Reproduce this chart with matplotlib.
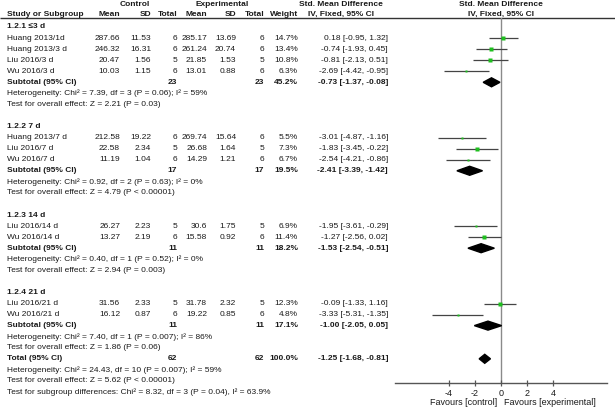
import numpy as np
import matplotlib
matplotlib.use("Agg")
import matplotlib.pyplot as plt

plt.rcParams['font.family'] = ['Liberation Sans', 'DejaVu Sans']

# ---- data ----
group_names = ["1.2.1 \u22643 d", "1.2.2 7 d", "1.2.3 14 d", "1.2.4 21 d"]
study = ["Huang 2013/1d", "Huang 2013/3 d", "Liu 2016/3 d", "Wu 2016/3 d",
         "Huang 2013/7 d", "Liu 2016/7 d", "Wu 2016/7 d",
         "Liu 2016/14 d", "Wu 2016/14 d",
         "Liu 2016/21 d", "Wu 2016/21 d"]
study_group = [0, 0, 0, 0, 1, 1, 1, 2, 2, 3, 3]
ctrl_mean = ["287.66", "246.32", "20.47", "10.03", "212.58", "22.58", "11.19", "26.27", "13.27", "31.56", "16.12"]
ctrl_sd = ["11.53", "16.31", "1.56", "1.15", "19.22", "2.34", "1.04", "2.23", "2.19", "2.33", "0.87"]
ctrl_n = [6, 6, 5, 6, 6, 5, 6, 5, 6, 5, 6]
exp_mean = ["285.17", "261.24", "21.85", "13.01", "269.74", "26.68", "14.29", "30.6", "15.58", "31.78", "19.22"]
exp_sd = ["13.69", "20.74", "1.53", "0.88", "15.64", "1.64", "1.21", "1.75", "0.92", "2.32", "0.85"]
exp_n = [6, 6, 5, 6, 6, 5, 6, 5, 6, 5, 6]
weight = [14.7, 13.4, 10.8, 6.3, 5.5, 7.3, 6.7, 6.9, 11.4, 12.3, 4.8]
smd = [0.18, -0.74, -0.81, -2.69, -3.01, -1.83, -2.54, -1.95, -1.27, -0.09, -3.33]
lo = [-0.95, -1.93, -2.13, -4.42, -4.87, -3.45, -4.21, -3.61, -2.56, -1.33, -5.31]
hi = [1.32, 0.45, 0.51, -0.95, -1.16, -0.22, -0.86, -0.29, 0.02, 1.16, -1.35]

sub_n_ctrl = [23, 17, 11, 11]
sub_n_exp = [23, 17, 11, 11]
sub_weight = [45.2, 19.5, 18.2, 17.1]
sub_smd = [-0.73, -2.41, -1.53, -1.00]
sub_lo = [-1.37, -3.39, -2.54, -2.05]
sub_hi = [-0.08, -1.42, -0.51, 0.05]
sub_het = ["Heterogeneity: Chi\u00b2 = 7.39, df = 3 (P = 0.06); I\u00b2 = 59%",
           "Heterogeneity: Chi\u00b2 = 0.92, df = 2 (P = 0.63); I\u00b2 = 0%",
           "Heterogeneity: Chi\u00b2 = 0.40, df = 1 (P = 0.52); I\u00b2 = 0%",
           "Heterogeneity: Chi\u00b2 = 7.40, df = 1 (P = 0.007); I\u00b2 = 86%"]
sub_test = ["Test for overall effect: Z = 2.21 (P = 0.03)",
            "Test for overall effect: Z = 4.79 (P < 0.00001)",
            "Test for overall effect: Z = 2.94 (P = 0.003)",
            "Test for overall effect: Z = 1.86 (P = 0.06)"]

total_n_ctrl, total_n_exp = 62, 62
total_smd, total_lo, total_hi = -1.25, -1.68, -0.81
total_lines = ["Heterogeneity: Chi\u00b2 = 24.43, df = 10 (P = 0.007); I\u00b2 = 59%",
               "Test for overall effect: Z = 5.62 (P < 0.00001)",
               "Test for subgroup differences: Chi\u00b2 = 8.32, df = 3 (P = 0.04), I\u00b2 = 63.9%"]
ticks = [-4, -2, 0, 2, 4]

# ---- layout (pixel coords) ----
W, H = 615, 415
fig = plt.figure(figsize=(W / 100, H / 100), dpi=100)
tax = fig.add_axes([0, 0, 1, 1])
tax.set_xlim(0, W)
tax.set_ylim(H, 0)
tax.axis('off')

axis_y, top_y = 383, 18
x0_px, x1_px = 395, 607
fax = fig.add_axes([x0_px / W, (H - axis_y) / H, (x1_px - x0_px) / W, (axis_y - top_y) / H])
fax.set_xlim(-8.15, 8.15)
fax.set_ylim(axis_y, top_y)
fax.patch.set_alpha(0)

fs = 6.0
tc = '#1a1a1a'
col_mean_c, col_sd_c, col_n_c = 120, 151, 177
col_mean_e, col_sd_e, col_n_e = 207, 236, 264
col_w, col_ci = 298, 388


def txt(x, y, s, ha='left', bold=False, size=fs):
    tax.text(x, y, s, ha=ha, va='center', fontsize=size, color=tc,
             fontweight='bold' if bold else 'normal')


# headers
txt(135, 4, "Control", ha='center', bold=True)
txt(222, 4, "Experimental", ha='center', bold=True)
txt(341, 4, "Std. Mean Difference", ha='center', bold=True)
txt(501, 4, "Std. Mean Difference", ha='center', bold=True)
hy = 14.5
txt(7, hy, "Study or Subgroup", bold=True)
for x, s in [(col_mean_c, "Mean"), (col_sd_c, "SD"), (col_n_c, "Total"),
             (col_mean_e, "Mean"), (col_sd_e, "SD"), (col_n_e, "Total"),
             (col_w, "Weight")]:
    txt(x, hy, s, ha='right', bold=True)
txt(341, hy, "IV, Fixed, 95% CI", ha='center', bold=True)
txt(501, hy, "IV, Fixed, 95% CI", ha='center', bold=True)
tax.hlines(top_y, 0, W, color='#333333', lw=1.0)

# rows
dy = 11.06
r = 0
y0 = 27
for g, gname in enumerate(group_names):
    txt(7, y0 + r * dy, gname, bold=True)
    r += 1
    for i in [k for k, sg in enumerate(study_group) if sg == g]:
        y = y0 + r * dy
        txt(7, y, study[i])
        txt(col_mean_c, y, ctrl_mean[i], ha='right')
        txt(col_sd_c, y, ctrl_sd[i], ha='right')
        txt(col_n_c, y, str(ctrl_n[i]), ha='right')
        txt(col_mean_e, y, exp_mean[i], ha='right')
        txt(col_sd_e, y, exp_sd[i], ha='right')
        txt(col_n_e, y, str(exp_n[i]), ha='right')
        txt(col_w, y, f"{weight[i]:.1f}%", ha='right')
        txt(col_ci, y, f"{smd[i]:.2f} [{lo[i]:.2f}, {hi[i]:.2f}]", ha='right')
        fax.hlines(y, lo[i], hi[i], color='#444444', lw=0.9, zorder=2)
        fax.plot(smd[i], y, 's', color='#1fbf1f', mec='none',
                 ms=0.8 * np.sqrt(weight[i]), zorder=3)
        r += 1
    y = y0 + r * dy
    txt(7, y, "Subtotal (95% CI)", bold=True)
    txt(col_n_c, y, str(sub_n_ctrl[g]), ha='right', bold=True)
    txt(col_n_e, y, str(sub_n_exp[g]), ha='right', bold=True)
    txt(col_w, y, f"{sub_weight[g]:.1f}%", ha='right', bold=True)
    txt(col_ci, y, f"{sub_smd[g]:.2f} [{sub_lo[g]:.2f}, {sub_hi[g]:.2f}]", ha='right', bold=True)
    fax.fill([sub_lo[g], sub_smd[g], sub_hi[g], sub_smd[g]],
             [y, y - 4.5, y, y + 4.5], color='black', zorder=3)
    r += 1
    txt(7, y0 + r * dy, sub_het[g])
    r += 1
    txt(7, y0 + r * dy, sub_test[g])
    r += 2

# total
r -= 1
y = y0 + r * dy
txt(7, y, "Total (95% CI)", bold=True)
txt(col_n_c, y, str(total_n_ctrl), ha='right', bold=True)
txt(col_n_e, y, str(total_n_exp), ha='right', bold=True)
txt(col_w, y, "100.0%", ha='right', bold=True)
txt(col_ci, y, f"{total_smd:.2f} [{total_lo:.2f}, {total_hi:.2f}]", ha='right', bold=True)
fax.fill([total_lo, total_smd, total_hi, total_smd],
         [y, y - 4.5, y, y + 4.5], color='black', zorder=3)
for line in total_lines:
    r += 1
    txt(7, y0 + r * dy, line)

# forest axis
fax.axvline(0, color='#8a8a8a', lw=1.0, zorder=1)
for s in ['left', 'right', 'top']:
    fax.spines[s].set_visible(False)
fax.spines['bottom'].set_color('#555555')
fax.spines['bottom'].set_linewidth(1.0)
fax.set_yticks([])
fax.set_xticks(ticks)
fax.set_xticklabels([str(t) for t in ticks])
fax.tick_params(axis='x', direction='inout', length=5, width=0.9,
                color='#555555', labelsize=6.5, pad=1.5, labelcolor=tc)
txt(497, 402, "Favours [control]", ha='right', size=6.5)
txt(504, 402, "Favours [experimental]", ha='left', size=6.5)

fig.savefig("out.png", dpi=100)
